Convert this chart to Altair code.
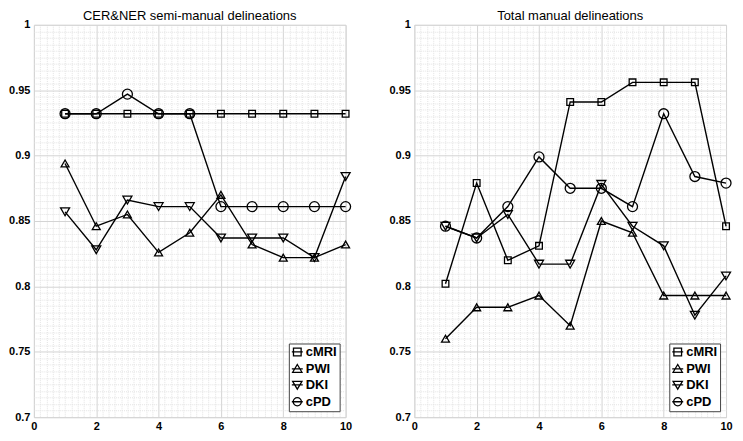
import altair as alt
import pandas as pd

x_vals = [1, 2, 3, 4, 5, 6, 7, 8, 9, 10]
series_names = ["cMRI", "PWI", "DKI", "cPD"]

# CER&NER semi-manual delineations
semi_cMRI = [0.932, 0.932, 0.932, 0.932, 0.932, 0.932, 0.932, 0.932, 0.932, 0.932]
semi_PWI = [0.894, 0.846, 0.855, 0.826, 0.841, 0.870, 0.832, 0.822, 0.822, 0.832]
semi_DKI = [0.857, 0.828, 0.866, 0.861, 0.861, 0.837, 0.837, 0.837, 0.822, 0.884]
semi_cPD = [0.932, 0.932, 0.947, 0.932, 0.932, 0.861, 0.861, 0.861, 0.861, 0.861]

# Total manual delineations
total_cMRI = [0.802, 0.879, 0.820, 0.831, 0.941, 0.941, 0.956, 0.956, 0.956, 0.846]
total_PWI = [0.760, 0.784, 0.784, 0.793, 0.770, 0.850, 0.841, 0.793, 0.793, 0.793]
total_DKI = [0.846, 0.837, 0.855, 0.817, 0.817, 0.878, 0.846, 0.831, 0.778, 0.808]
total_cPD = [0.846, 0.837, 0.861, 0.899, 0.875, 0.875, 0.861, 0.932, 0.884, 0.879]

panels = {
    "semi": {"cMRI": semi_cMRI, "PWI": semi_PWI, "DKI": semi_DKI, "cPD": semi_cPD},
    "total": {"cMRI": total_cMRI, "PWI": total_PWI, "DKI": total_DKI, "cPD": total_cPD},
}
rows = []
for key, d in panels.items():
    for s in series_names:
        for xv, yv in zip(x_vals, d[s]):
            rows.append({"panel": key, "series": s, "x": xv, "y": yv})
df = pd.DataFrame(rows)

major_x = [0, 2, 4, 6, 8, 10]
major_y = [0.7, 0.75, 0.8, 0.85, 0.9, 0.95, 1.0]
minor_x = [round(i * 0.2, 3) for i in range(51) if i % 10 != 0]
minor_y = [round(0.7 + i * 0.005, 4) for i in range(61) if i % 10 != 0]

point_shapes = ["square", "triangle-up", "triangle-down", "circle"]
point_sizes = [45, 100, 100, 100]
legend_paths = [
    "M-1,0H1M-0.7,-0.7H0.7V0.7H-0.7Z",
    "M-1,0H1M0,-0.8L0.85,0.62L-0.85,0.62Z",
    "M-1,0H1M0,0.8L0.85,-0.62L-0.85,-0.62Z",
    "M-1,0H1M0.75,0A0.75,0.75 0 1,1 -0.75,0A0.75,0.75 0 1,1 0.75,0Z",
]

FONT = "Liberation Sans"
PW, PH = 313, 394


def make_panel(key, title):
    base = alt.Chart(df).transform_filter(alt.datum.panel == key)
    xs = alt.Scale(domain=[0, 10], nice=False, zero=False)
    ys = alt.Scale(domain=[0.7, 1.0], nice=False, zero=False)

    minor_x_axis = alt.Axis(values=minor_x, grid=True, gridColor="#e3e3e3", gridDash=[1, 1],
                            labels=False, ticks=False, domain=False, title=None, orient="bottom",
                            minExtent=0, maxExtent=0)
    minor_y_axis = alt.Axis(values=minor_y, grid=True, gridColor="#e3e3e3", gridDash=[1, 1],
                            labels=False, ticks=False, domain=False, title=None, orient="left",
                            minExtent=0, maxExtent=0)
    major_x_axis = alt.Axis(values=major_x, grid=True, gridColor="#d4d4d4", labels=True,
                            labelFontWeight="bold", labelFontSize=11, labelColor="black",
                            labelPadding=3, ticks=False, domain=False, title=None,
                            orient="bottom", format="d", labelFont=FONT, labelFlush=False,
                            minExtent=14, maxExtent=14)
    major_y_axis = alt.Axis(values=major_y, grid=True, gridColor="#d4d4d4", labels=True,
                            labelFontWeight="bold", labelFontSize=11, labelColor="black",
                            labelPadding=4, ticks=False, domain=False, title=None,
                            orient="left", format="~g", labelFont=FONT, labelFlush=False,
                            minExtent=24, maxExtent=24)

    lines = base.mark_line(color="black", strokeWidth=1.4).encode(
        x=alt.X("x:Q", scale=xs, axis=minor_x_axis),
        y=alt.Y("y:Q", scale=ys, axis=minor_y_axis),
        detail="series:N",
        order="x:Q",
    )
    points = base.mark_point(filled=False, color="black", strokeWidth=1.3, opacity=1).encode(
        x=alt.X("x:Q", scale=xs, axis=major_x_axis),
        y=alt.Y("y:Q", scale=ys, axis=major_y_axis),
        shape=alt.Shape("series:N", scale=alt.Scale(domain=series_names, range=point_shapes), legend=None),
        size=alt.Size("series:N", scale=alt.Scale(domain=series_names, range=point_sizes), legend=None),
    )
    legend_layer = base.transform_filter(alt.datum.x < 0).mark_point(
        filled=False, color="black", strokeWidth=1.3, opacity=1
    ).encode(
        x=alt.X("x:Q", scale=xs, axis=None),
        y=alt.Y("y:Q", scale=ys, axis=None),
        shape=alt.Shape(
            "series:N",
            scale=alt.Scale(domain=series_names, range=legend_paths),
            legend=alt.Legend(
                orient="bottom-right", offset=6, title=None,
                labelFontWeight="bold", labelFontSize=13, labelColor="black", labelFont=FONT,
                symbolSize=121, symbolStrokeWidth=1.3, symbolStrokeColor="black",
                symbolFillColor="transparent", strokeColor="#444444", fillColor="white",
                padding=2, rowPadding=2, labelOffset=2, cornerRadius=0,
            ),
        ),
    )
    return (
        alt.layer(lines, points, legend_layer)
        .resolve_scale(shape="independent", size="independent")
        .resolve_axis(x="independent", y="independent")
        .properties(
            width=PW, height=PH,
            title=alt.TitleParams(title, fontSize=13, fontWeight="normal", color="black",
                                  offset=-4, font=FONT),
        )
    )


left = make_panel("semi", "CER&NER semi-manual delineations")
right = make_panel("total", "Total manual delineations")

chart = (
    alt.hconcat(left, right, spacing=34)
    .resolve_scale(shape="independent", size="independent")
    .resolve_legend(shape="independent")
    .properties(padding={"left": 0, "top": 0, "right": 0, "bottom": 0})
    .configure_view(stroke="#7f7f7f", strokeWidth=1)
    .configure(font=FONT, background="white")
)

chart.save("out.html", embed_options={"renderer": "svg", "actions": False})
